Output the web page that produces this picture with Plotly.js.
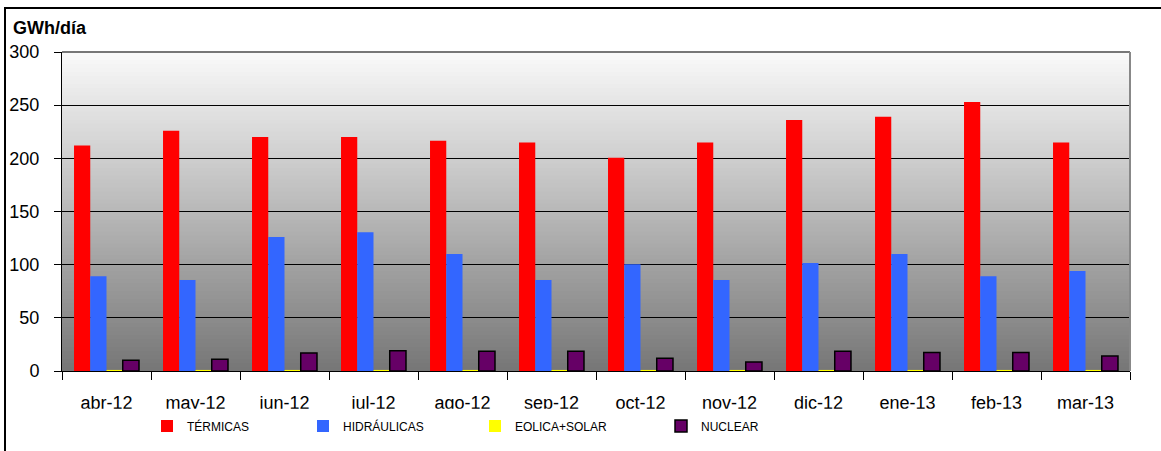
<!DOCTYPE html>
<html>
<head>
<meta charset="utf-8">
<script src="https://cdn.plot.ly/plotly-3.0.1.min.js"></script>
<style>
  html, body { margin: 0; padding: 0; background: #fff; overflow: hidden; }
  #wrap { position: relative; width: 1161px; height: 451px; }
  #chart { width: 1161px; height: 451px; }
  #frame { position: absolute; left: 4px; top: 7px; width: 1200px; height: 500px;
           border: 2px solid #000; pointer-events: none; box-sizing: border-box; }
</style>
</head>
<body>
<div id="wrap">
  <div id="chart"></div>
  <div id="frame"></div>
</div>
<script>
// ---- Data (GWh/día) ----
const categorias = ['abr-12', 'may-12', 'jun-12', 'jul-12', 'ago-12', 'sep-12',
                    'oct-12', 'nov-12', 'dic-12', 'ene-13', 'feb-13', 'mar-13'];
const termicas    = [212, 226, 220, 220, 216.5, 215, 200.5, 215, 236, 239, 253, 215];
const hidraulicas = [89, 85.5, 126, 130.5, 110, 85.5, 100.5, 85.5, 101.5, 110, 89, 94];
const eolicaSolar = [1, 1, 1, 1, 1, 1, 1, 1, 1, 1, 1, 1];
const nuclear     = [10, 11, 17, 19, 18.5, 18.5, 12, 8.5, 18.5, 17.5, 17.5, 14];
const yTicks      = [0, 50, 100, 150, 200, 250, 300];

const FONT = 'Liberation Sans, Arial, Helvetica, sans-serif';

const traces = [
  { type: 'bar', name: 'TÉRMICAS', x: categorias, y: termicas,
    marker: { color: '#FF0000', line: { width: 0 } }, legend: 'legend' },
  { type: 'bar', name: 'HIDRÁULICAS', x: categorias, y: hidraulicas,
    marker: { color: '#3366FF', line: { width: 0 } }, legend: 'legend2' },
  { type: 'bar', name: 'EOLICA+SOLAR', x: categorias, y: eolicaSolar,
    marker: { color: '#FFFF00', line: { width: 0 } }, legend: 'legend3' },
  { type: 'bar', name: 'NUCLEAR', x: categorias, y: nuclear,
    marker: { color: '#660066', line: { color: '#000000', width: 1.5 } }, legend: 'legend4' }
];

// Background gradient (style only): light at top, dark grey at bottom
const shapes = [];
const N = 80;
for (let i = 0; i < N; i++) {
  const t = (i + 0.5) / N;
  const v = Math.round(118 + (250 - 118) * t);
  shapes.push({
    type: 'rect', xref: 'paper', yref: 'paper', layer: 'below',
    x0: 0, x1: 1, y0: i / N, y1: Math.min(1, (i + 1) / N + 0.003),
    fillcolor: `rgb(${v},${v},${v})`, line: { width: 0 }
  });
}
// top and right plot borders (grey)
shapes.push({ type: 'line', xref: 'paper', yref: 'paper', layer: 'above',
  x0: 0, x1: 1, y0: 1, y1: 1, line: { color: '#777777', width: 2 } });
shapes.push({ type: 'line', xref: 'paper', yref: 'paper', layer: 'above',
  x0: 1, x1: 1, y0: 0, y1: 1, line: { color: '#888888', width: 2 } });
// clip strip under category labels (as in the original picture)
shapes.push({ type: 'rect', xref: 'paper', yref: 'paper', layer: 'above',
  x0: -0.01, x1: 1.01, y0: (370.7 - 416) / 318.4, y1: (370.7 - 408.5) / 318.4,
  fillcolor: '#ffffff', line: { width: 0 } });

function leg(px) {
  return {
    x: px / 1161, xref: 'container', xanchor: 'left',
    y: 1 - 426 / 451, yref: 'container', yanchor: 'middle',
    orientation: 'h', bgcolor: 'rgba(0,0,0,0)', borderwidth: 0,
    font: { family: FONT, size: 12, color: '#000' }
  };
}

const layout = {
  width: 1161, height: 451,
  margin: { l: 62, r: 31, t: 52, b: 80, pad: 0 },
  paper_bgcolor: '#ffffff',
  plot_bgcolor: 'rgba(0,0,0,0)',
  barmode: 'group', bargap: 0.27, bargroupgap: 0,
  font: { family: FONT, color: '#000' },
  showlegend: true,
  legend: leg(147), legend2: leg(303), legend3: leg(475), legend4: leg(661),
  xaxis: {
    type: 'category', showgrid: false, zeroline: false,
    showline: true, linecolor: '#000', linewidth: 1,
    ticks: 'outside', tickson: 'boundaries', ticklen: 8, tickcolor: '#000', tickwidth: 1,
    tickfont: { family: FONT, size: 18, color: '#000' },
    ticklabelstandoff: 15
  },
  yaxis: {
    range: [0, 300], tickvals: yTicks, ticktext: yTicks.map(String),
    showgrid: true, gridcolor: '#000', gridwidth: 1, zeroline: false,
    showline: true, linecolor: '#000', linewidth: 1,
    ticks: 'outside', ticklen: 7, tickcolor: '#000', tickwidth: 1,
    tickfont: { family: FONT, size: 18, color: '#000' },
    ticklabelstandoff: 11
  },
  shapes: shapes,
  annotations: [{
    text: '<b>GWh/día</b>', xref: 'paper', yref: 'paper',
    x: (10.5 - 62) / 1068, y: (370.7 - 28) / 318.4,
    xanchor: 'left', yanchor: 'middle', showarrow: false,
    font: { family: FONT, size: 18, color: '#000' }
  }]
};

Plotly.newPlot('chart', traces, layout, { displayModeBar: false, staticPlot: true });
</script>
</body>
</html>
